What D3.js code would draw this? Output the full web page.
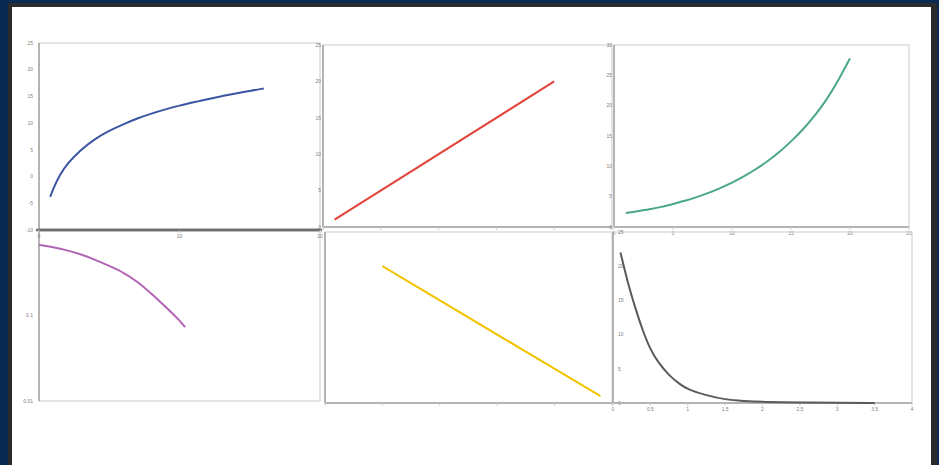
<!DOCTYPE html>
<html>
<head>
<meta charset="utf-8">
<script src="https://cdn.jsdelivr.net/npm/d3@7"></script>
<style>
  html, body { margin: 0; padding: 0; background: #0b2a52; }
  svg { display: block; }
  .tick text { font-family: "Liberation Sans", Arial, sans-serif; font-size: 5px; fill: #808080; }
</style>
</head>
<body>
<div id="chart"></div>
<script>
// Logarithmic curve (blue)
var LOG_X = [0.8, 1, 1.5, 2, 3, 4, 5, 6, 7, 8, 9, 10, 11, 12, 13, 14, 15, 16];
var LOG_Y = [-3.8, -2.3, 0.4, 2.4, 5.1, 7.1, 8.6, 9.8, 10.9, 11.8, 12.6, 13.3, 13.9, 14.5, 15.0, 15.6, 16.0, 16.5];
// Linear rising line (red)
var LIN_X = [1, 20];
var LIN_Y = [1, 20];
// Exponential growth (green)
var EXP_X = [1, 2, 3, 4, 5, 6, 7, 8, 9, 10, 11, 12, 13, 14, 15, 16, 17, 18, 19, 20];
var EXP_Y = [2.3, 2.6, 2.9, 3.3, 3.8, 4.3, 4.9, 5.6, 6.4, 7.3, 8.3, 9.5, 10.8, 12.3, 14.1, 16.0, 18.3, 20.9, 24.1, 27.8];
// Log-scale falling curve (purple)
var PWR_X = [0, 1, 2, 3, 4, 5, 6, 7, 8, 9, 10, 10.4];
var PWR_Y = [0.67, 0.63, 0.58, 0.52, 0.45, 0.38, 0.32, 0.25, 0.18, 0.127, 0.088, 0.073];
// Linear falling line (yellow)
var DEC_X = [5, 24];
var DEC_Y = [20, 1];
// Exponential decay (grey)
var DCY_X = [0.1, 0.2, 0.3, 0.4, 0.5, 0.6, 0.75, 0.9, 1.0, 1.25, 1.5, 1.75, 2.0, 2.5, 3.0, 3.5];
var DCY_Y = [22, 17.5, 13.8, 10.5, 7.8, 6.0, 4.0, 2.7, 2.0, 1.1, 0.5, 0.3, 0.15, 0.05, 0.02, 0.01];

// tick labels
var TICKS_Y1 = [-10, -5, 0, 5, 10, 15, 20, 25];
var TICKS_X20 = [0, 10, 20];
var TICKS_25 = [0, 5, 10, 15, 20, 25];
var TICKS_30 = [0, 5, 10, 15, 20, 25, 30];
var TICKS_LOG = [0.01, 0.1];
var TICKS_X6 = [0, 0.5, 1, 1.5, 2, 2.5, 3, 3.5, 4];

var W = 939, H = 465;

var svg = d3.select('#chart').append('svg')
  .attr('width', W).attr('height', H);

// slide background with dark inner frame
svg.append('rect').attr('x', 8).attr('y', 3).attr('width', 929).attr('height', H)
  .attr('fill', '#2b2b2b');
svg.append('rect').attr('x', 12).attr('y', 7).attr('width', 919).attr('height', H)
  .attr('fill', '#ffffff');

var panels = [
  { xs: LOG_X, ys: LOG_Y, color: '#3b55a3', x0: 39, x1: 320, y0: 43, y1: 230,
    xd: [0, 20], yd: [-10, 25], yt: TICKS_Y1, ylab: -6, xt: null, xaxis: 'dark' },
  { xs: LIN_X, ys: LIN_Y, color: '#e2433b', x0: 323, x1: 612, y0: 45, y1: 227,
    xd: [0, 25], yd: [0, 25], yt: TICKS_25, ylab: -2, xt: TICKS_25, xlab: false },
  { xs: EXP_X, ys: EXP_Y, color: '#4aa882', x0: 614, x1: 909, y0: 45, y1: 227,
    xd: [0, 25], yd: [0, 30], yt: TICKS_30, ylab: -2, xt: TICKS_25, xlab: true },
  { xs: PWR_X, ys: PWR_Y, color: '#b264b4', x0: 39, x1: 320, y0: 230, y1: 401,
    xd: [0, 20], yd: [0.01, 1], log: true, yt: TICKS_LOG, ylab: -6, xt: TICKS_X20, xlab: true, top: true },
  { xs: DEC_X, ys: DEC_Y, color: '#f2c400', x0: 325, x1: 612, y0: 232, y1: 403,
    xd: [0, 25], yd: [0, 25], yt: null, xt: TICKS_25, xlab: false },
  { xs: DCY_X, ys: DCY_Y, color: '#5a5a5e', x0: 613, x1: 912, y0: 232, y1: 403,
    xd: [0, 4], yd: [0, 25], yt: TICKS_25, ylab: 5, xt: TICKS_X6, xlab: true }
];

panels.forEach(function(p) {
  var x = d3.scaleLinear().domain(p.xd).range([p.x0, p.x1]);
  var y = (p.log ? d3.scaleLog() : d3.scaleLinear())
    .domain(p.yd).range([p.y1, p.y0]);

  var g = svg.append('g');

  // plot area frame
  g.append('rect')
    .attr('x', p.x0).attr('y', p.y0)
    .attr('width', p.x1 - p.x0).attr('height', p.y1 - p.y0)
    .attr('fill', 'none').attr('stroke', '#d4d4d4').attr('stroke-width', 1.2);

  // y axis
  var ya = g.append('g').attr('transform', 'translate(' + p.x0 + ',0)');
  ya.append('line').attr('x1', 0).attr('x2', 0).attr('y1', p.y0).attr('y2', p.y1)
    .attr('stroke', '#a8a8a8').attr('stroke-width', 1.6);
  if (p.yt) {
    ya.selectAll('.tick').data(p.yt).enter().append('g')
      .attr('class', 'tick')
      .attr('transform', function(d) { return 'translate(0,' + y(d) + ')'; })
      .append('text')
        .attr('x', p.ylab)
        .attr('dy', '0.35em')
        .style('text-anchor', p.ylab > 0 ? 'start' : 'end')
        .text(function(d) { return d; });
  }

  // x axis
  var axisY = p.top ? p.y0 : p.y1;
  var xa = g.append('g').attr('transform', 'translate(0,' + axisY + ')');
  if (p.xaxis == 'dark') {
    xa.append('line').attr('x1', p.x0 - 3).attr('x2', p.x1 + 2)
      .attr('stroke', '#6e6e6e').attr('stroke-width', 2.6);
  } else {
    xa.append('line').attr('x1', p.x0).attr('x2', p.x1)
      .attr('stroke', p.top ? '#6e6e6e' : '#b4b4b4')
      .attr('stroke-width', p.top ? 2.6 : 1.8);
  }
  if (p.xt) {
    var t = xa.selectAll('.tick').data(p.xt).enter().append('g')
      .attr('class', 'tick')
      .attr('transform', function(d) { return 'translate(' + x(d) + ',0)'; });
    t.append('line').attr('y1', 0).attr('y2', 3)
      .attr('stroke', '#c4c4c4').attr('stroke-width', 0.8);
    if (p.xlab) {
      t.append('text').attr('y', 6).attr('dy', '0.35em')
        .style('text-anchor', 'middle')
        .text(function(d) { return d; });
    }
  }

  // series
  var pts = p.xs.map(function(d, i) { return [d, p.ys[i]]; });
  var line = d3.line()
    .x(function(d) { return x(d[0]); })
    .y(function(d) { return y(d[1]); })
    .curve(d3.curveBasis);
  g.append('path')
    .datum(pts)
    .attr('fill', 'none')
    .attr('stroke', p.color)
    .attr('stroke-width', 2)
    .attr('d', line);
});
</script>
</body>
</html>
